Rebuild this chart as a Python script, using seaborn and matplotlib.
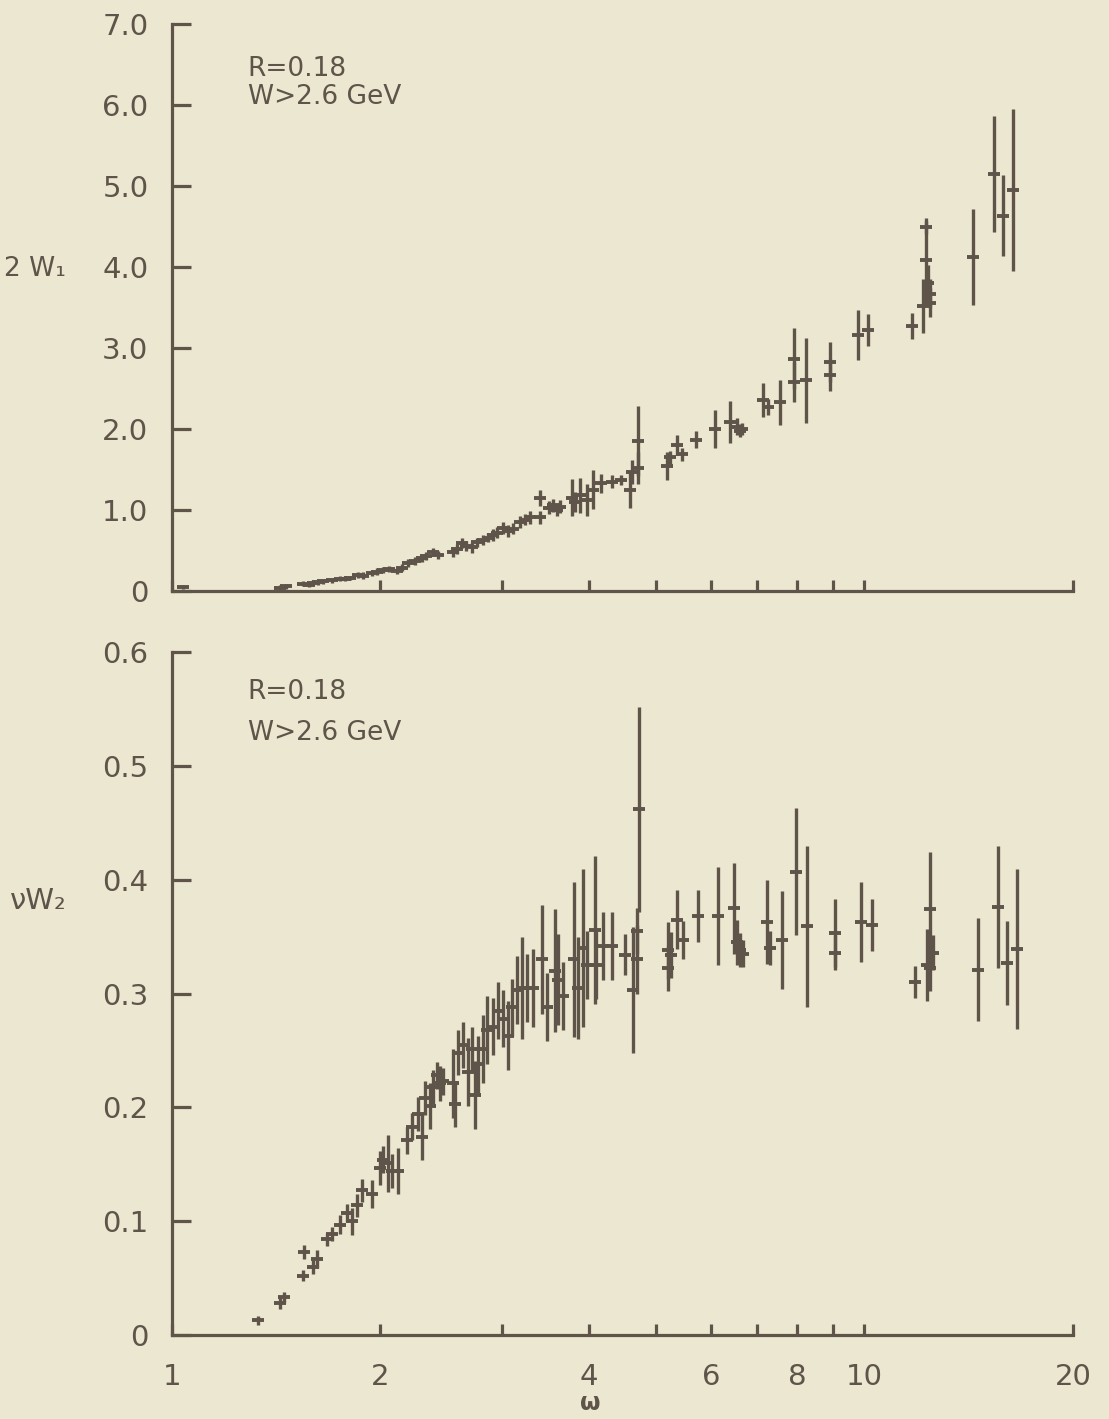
import numpy as np
import pandas as pd
import seaborn as sns
import matplotlib
matplotlib.use("Agg")
import matplotlib.pyplot as plt
from matplotlib.ticker import FixedLocator, FixedFormatter, NullLocator

# ---------------- data ----------------
# top panel: 2W1 vs omega
w1_omega = [1.037, 1.43, 1.46, 1.546, 1.575, 1.598, 1.625, 1.652, 1.70, 1.748,
            1.78, 1.807, 1.856, 1.89, 1.945, 1.98, 2.017, 2.06, 2.113, 2.15,
            2.192, 2.24, 2.296, 2.33, 2.382, 2.42, 2.546, 2.58, 2.623, 2.66,
            2.712, 2.76, 2.813, 2.86, 2.908, 2.95, 3.006, 3.06, 3.108, 3.181,
            3.23, 3.289, 3.40, 3.40, 3.50, 3.549, 3.60, 3.634, 3.781, 3.82,
            3.884, 3.975, 4.055, 4.17, 4.319, 4.45, 4.586, 4.616, 4.709, 4.709,
            5.186, 5.238, 5.36, 5.45, 5.71, 6.083, 6.394, 6.545, 6.60, 6.655,
            7.136, 7.256, 7.551, 7.911, 7.911, 8.232, 8.916, 8.916, 9.786, 10.12,
            11.71, 12.15, 12.27, 12.27, 12.35, 12.43, 12.43, 14.35, 15.38, 15.85,
            16.39]
w1_value = [0.05, 0.04, 0.06, 0.09, 0.08, 0.10, 0.11, 0.12, 0.13, 0.15,
            0.15, 0.16, 0.20, 0.19, 0.22, 0.24, 0.26, 0.27, 0.25, 0.29,
            0.35, 0.37, 0.41, 0.43, 0.48, 0.45, 0.48, 0.52, 0.59, 0.56,
            0.54, 0.60, 0.63, 0.66, 0.69, 0.72, 0.78, 0.74, 0.77, 0.85,
            0.88, 0.91, 1.15, 0.91, 1.03, 1.06, 1.00, 1.04, 1.15, 1.10,
            1.18, 1.12, 1.25, 1.33, 1.35, 1.37, 1.25, 1.47, 1.85, 1.52,
            1.54, 1.65, 1.80, 1.69, 1.87, 2.00, 2.09, 2.03, 1.98, 2.00,
            2.36, 2.27, 2.33, 2.87, 2.58, 2.60, 2.83, 2.67, 3.16, 3.22,
            3.27, 3.52, 4.09, 4.49, 3.80, 3.67, 3.56, 4.12, 5.15, 4.63,
            4.95]
w1_error = [0.03, 0.03, 0.03, 0.03, 0.03, 0.03, 0.03, 0.03, 0.03, 0.03,
            0.03, 0.03, 0.04, 0.04, 0.04, 0.04, 0.04, 0.04, 0.04, 0.04,
            0.05, 0.05, 0.05, 0.05, 0.05, 0.05, 0.06, 0.06, 0.06, 0.06,
            0.07, 0.06, 0.06, 0.06, 0.07, 0.07, 0.07, 0.07, 0.07, 0.07,
            0.07, 0.08, 0.10, 0.08, 0.08, 0.08, 0.08, 0.08, 0.23, 0.12,
            0.22, 0.20, 0.24, 0.12, 0.08, 0.06, 0.23, 0.15, 0.43, 0.20,
            0.17, 0.08, 0.12, 0.08, 0.11, 0.23, 0.26, 0.10, 0.08, 0.08,
            0.21, 0.10, 0.28, 0.38, 0.25, 0.52, 0.25, 0.20, 0.31, 0.20,
            0.16, 0.33, 0.52, 0.08, 0.22, 0.18, 0.18, 0.59, 0.72, 0.50,
            1.00]

# bottom panel: nu W2 vs omega
w2_omega = [1.331, 1.43, 1.45, 1.546, 1.553, 1.60, 1.62, 1.674, 1.702, 1.748,
            1.789, 1.818, 1.849, 1.880, 1.945, 1.997, 2.017, 2.05, 2.078, 2.12,
            2.184, 2.22, 2.265, 2.296, 2.319, 2.358, 2.382, 2.414, 2.438, 2.462,
            2.546, 2.563, 2.588, 2.632, 2.676, 2.712, 2.739, 2.767, 2.813, 2.851,
            2.908, 2.956, 3.006, 3.056, 3.097, 3.15, 3.202, 3.256, 3.32, 3.42,
            3.48, 3.57, 3.61, 3.67, 3.81, 3.86, 3.92, 3.975, 4.08, 4.10,
            4.19, 4.32, 4.51, 4.63, 4.69, 4.69, 4.72, 5.21, 5.21, 5.26,
            5.36, 5.47, 5.74, 6.15, 6.47, 6.55, 6.62, 6.68, 7.23, 7.30,
            7.60, 7.97, 8.27, 9.06, 9.06, 9.90, 10.25, 11.82, 12.30, 12.43,
            12.43, 12.55, 14.6, 15.58, 16.05, 16.6]
w2_value = [0.013, 0.028, 0.033, 0.052, 0.073, 0.060, 0.067, 0.084, 0.089, 0.097,
            0.107, 0.100, 0.114, 0.127, 0.124, 0.147, 0.154, 0.151, 0.144, 0.144,
            0.171, 0.183, 0.194, 0.174, 0.208, 0.201, 0.218, 0.228, 0.221, 0.223,
            0.221, 0.203, 0.248, 0.255, 0.231, 0.251, 0.211, 0.238, 0.251, 0.268,
            0.271, 0.285, 0.278, 0.263, 0.288, 0.303, 0.305, 0.305, 0.305, 0.330,
            0.288, 0.320, 0.312, 0.298, 0.330, 0.305, 0.340, 0.325, 0.356, 0.325,
            0.342, 0.342, 0.334, 0.303, 0.355, 0.330, 0.462, 0.338, 0.322, 0.334,
            0.365, 0.347, 0.368, 0.368, 0.375, 0.345, 0.338, 0.335, 0.363, 0.340,
            0.347, 0.407, 0.359, 0.353, 0.336, 0.363, 0.360, 0.310, 0.325, 0.374,
            0.322, 0.336, 0.321, 0.376, 0.327, 0.339]
w2_error = [0.004, 0.005, 0.005, 0.005, 0.006, 0.006, 0.008, 0.006, 0.006, 0.008,
            0.008, 0.012, 0.010, 0.010, 0.012, 0.015, 0.012, 0.025, 0.015, 0.020,
            0.012, 0.012, 0.015, 0.020, 0.015, 0.020, 0.015, 0.012, 0.015, 0.012,
            0.030, 0.020, 0.020, 0.020, 0.030, 0.020, 0.030, 0.025, 0.030, 0.030,
            0.025, 0.025, 0.025, 0.030, 0.025, 0.030, 0.045, 0.030, 0.034, 0.048,
            0.030, 0.054, 0.040, 0.030, 0.068, 0.045, 0.069, 0.030, 0.065, 0.030,
            0.030, 0.030, 0.018, 0.055, 0.020, 0.030, 0.090, 0.025, 0.020, 0.020,
            0.026, 0.017, 0.023, 0.043, 0.040, 0.020, 0.015, 0.012, 0.037, 0.015,
            0.043, 0.056, 0.071, 0.030, 0.015, 0.035, 0.023, 0.014, 0.032, 0.050,
            0.020, 0.015, 0.045, 0.054, 0.037, 0.070]

x_ticks = [1, 2, 3, 4, 5, 6, 7, 8, 9, 10, 20]
x_ticklabels = ["1", "2", "", "4", "", "6", "", "8", "", "10", "20"]
top_yticks = [0, 1, 2, 3, 4, 5, 6, 7]
top_yticklabels = ["0", "1.0", "2.0", "3.0", "4.0", "5.0", "6.0", "7.0"]
bot_yticks = [0, 0.1, 0.2, 0.3, 0.4, 0.5, 0.6]
bot_yticklabels = ["0", "0.1", "0.2", "0.3", "0.4", "0.5", "0.6"]
note_lines = ["R=0.18", "W>2.6 GeV"]

# ---------------- style ----------------
BG = "#ece7d0"
INK = "#5e544a"
sns.set_theme(style="ticks")
plt.rcParams["font.family"] = ["DejaVu Sans"]
plt.rcParams["axes.facecolor"] = BG
plt.rcParams["figure.facecolor"] = BG
plt.rcParams["savefig.facecolor"] = BG

fig = plt.figure(figsize=(11.09, 14.19), dpi=100)
ax1 = fig.add_axes([0.1551, 0.5835, 0.8124, 0.3996])
ax2 = fig.add_axes([0.1551, 0.0592, 0.8124, 0.4813])

top = pd.DataFrame({"omega": w1_omega, "val": w1_value, "err": w1_error})
bot = pd.DataFrame({"omega": w2_omega, "val": w2_value, "err": w2_error})


def draw(ax, df):
    ax.errorbar(df["omega"], df["val"], yerr=df["err"], fmt="none",
                ecolor=INK, elinewidth=2.4, capsize=0, zorder=2)
    sns.scatterplot(data=df, x="omega", y="val", ax=ax, marker="_", s=70,
                    color=INK, linewidth=2.8, zorder=3, legend=False)


draw(ax1, top)
draw(ax2, bot)

for ax, yt, ytl, ylim in [(ax1, top_yticks, top_yticklabels, (0, 7.0)),
                          (ax2, bot_yticks, bot_yticklabels, (0, 0.6))]:
    ax.set_xscale("log")
    ax.set_xlim(1, 20)
    ax.set_ylim(*ylim)
    ax.xaxis.set_major_locator(FixedLocator(x_ticks))
    ax.xaxis.set_minor_locator(NullLocator())
    ax.yaxis.set_major_locator(FixedLocator(yt))
    ax.yaxis.set_major_formatter(FixedFormatter(ytl))
    for s in ["top", "right"]:
        ax.spines[s].set_visible(False)
    for s in ["left", "bottom"]:
        ax.spines[s].set_color(INK)
        ax.spines[s].set_linewidth(2.3)
    ax.tick_params(axis="y", direction="in", length=14, width=2.3,
                   color=INK, labelcolor=INK, labelsize=21, pad=17)
    ax.tick_params(axis="x", direction="in", length=8, width=2.3,
                   color=INK, labelcolor=INK, labelsize=21, pad=20)
    ax.set_xlabel("")
    ax.set_ylabel("")

ax1.xaxis.set_major_formatter(FixedFormatter([""] * len(x_ticks)))
ax2.xaxis.set_major_formatter(FixedFormatter(x_ticklabels))

# annotations
ax1.text(0.084, 0.92, note_lines[0], transform=ax1.transAxes, fontsize=19,
         color=INK, va="center", ha="left")
ax1.text(0.084, 0.872, note_lines[1], transform=ax1.transAxes, fontsize=19,
         color=INK, va="center", ha="left")
ax2.text(0.084, 0.941, note_lines[0], transform=ax2.transAxes, fontsize=19,
         color=INK, va="center", ha="left")
ax2.text(0.084, 0.882, note_lines[1], transform=ax2.transAxes, fontsize=19,
         color=INK, va="center", ha="left")

# axis labels
ax1.set_ylabel("2 W\u2081", rotation=0, fontsize=19, color=INK)
ax1.yaxis.set_label_coords(-0.152, 0.545)
ax2.set_ylabel("\u03bdW\u2082", rotation=0, fontsize=21, color=INK)
ax2.yaxis.set_label_coords(-0.148, 0.615)
ax2.set_xlabel("\u03c9", fontsize=17, color=INK, fontweight="bold")
ax2.xaxis.label.set_va("center")
ax2.xaxis.set_label_coords(0.464, -0.100)

fig.savefig("out.png", dpi=100, facecolor=BG)
